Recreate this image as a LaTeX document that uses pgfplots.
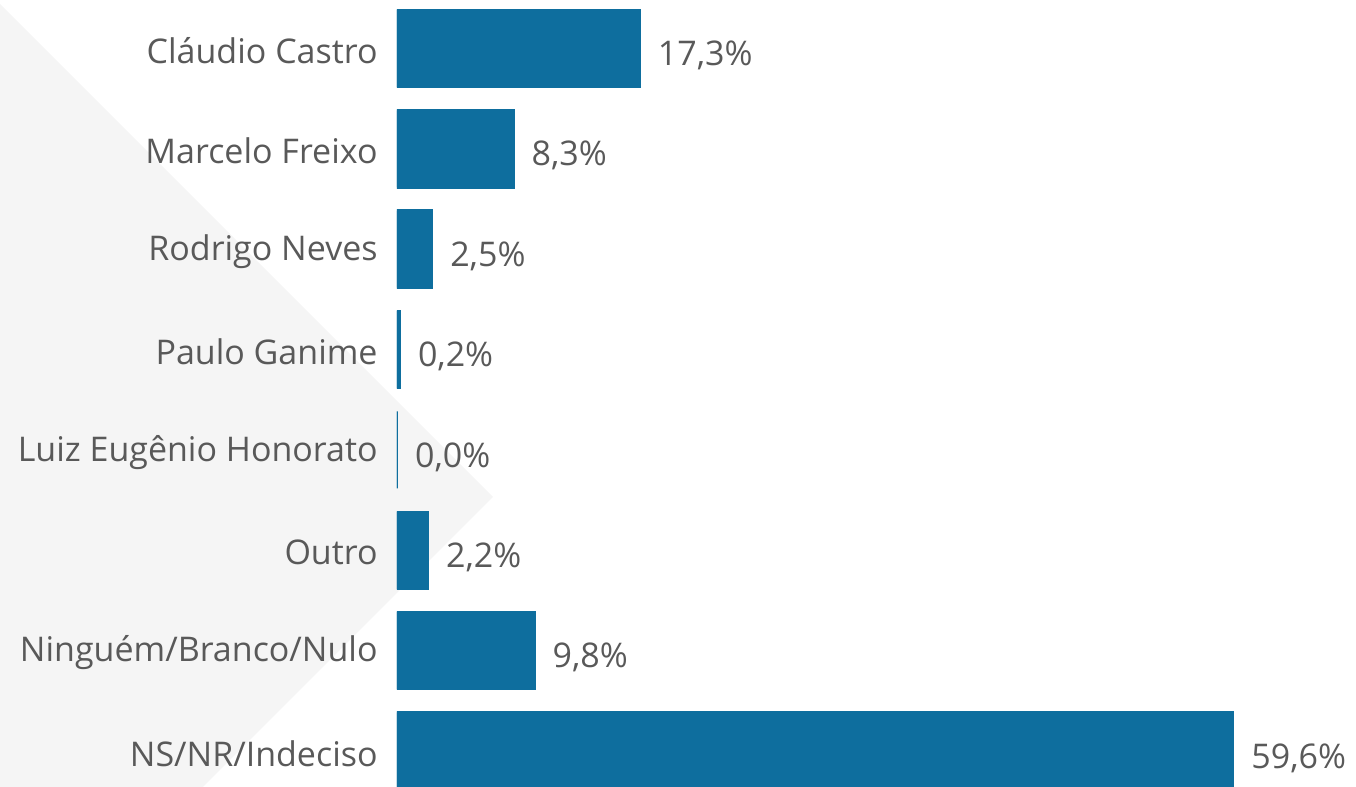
\documentclass[border=0pt]{standalone}
\usepackage{pgfplots}
\pgfplotsset{compat=1.18}
\usepackage{fontspec}
\setmainfont{Open Sans}
\definecolor{barblue}{RGB}{14,110,158}
\definecolor{txtgray}{RGB}{89,89,89}
\definecolor{bggray}{RGB}{245,245,245}
\begin{document}
\begin{tikzpicture}
% 1 px of the reference = 0.5pt
\useasboundingbox (0,0) rectangle (678pt,393.5pt);
\fill[bggray] (0,391.5pt) -- (246.5pt,145pt) -- (101.5pt,0) -- (0,0) -- cycle;
\begin{axis}[
    at={(198.5pt,0pt)}, anchor=south west,
    scale only axis,
    width=479.5pt, height=393.5pt,
    xbar, bar width=38.5pt,
    xmin=0, xmax=68.35,
    ymin=-0.483, ymax=7.359,
    y dir=reverse,
    hide x axis,
    axis line style={draw=none},
    ytick={0,...,7},
    yticklabels={Cláudio Castro, Marcelo Freixo, Rodrigo Neves, Paulo Ganime,
        Luiz Eugênio Honorato, Outro, Ninguém/Branco/Nulo, NS/NR/Indeciso},
    major tick length=0pt,
    yticklabel style={font=\fontsize{17}{20}\selectfont, text=txtgray,
        anchor=east, inner sep=0pt, xshift=-9.5pt, yshift=-1.2pt},
    nodes near coords={\pgfmathprintnumber{\pgfplotspointmeta}\%},
    nodes near coords style={font=\fontsize{17}{20}\selectfont, text=txtgray,
        anchor=west, inner sep=0pt, xshift=8.5pt, yshift=-3.5pt,
        /pgf/number format/.cd, fixed, fixed zerofill, precision=1,
        use comma, assume math mode=true},
    clip=true,
]
\addplot[fill=barblue, draw=barblue, line width=1.2pt] coordinates {
    (17.3,0) (8.3,1) (2.5,2) (0.2,3) (0.0,4) (2.2,5) (9.8,6) (59.6,7)
};
\end{axis}
\end{tikzpicture}
\end{document}
